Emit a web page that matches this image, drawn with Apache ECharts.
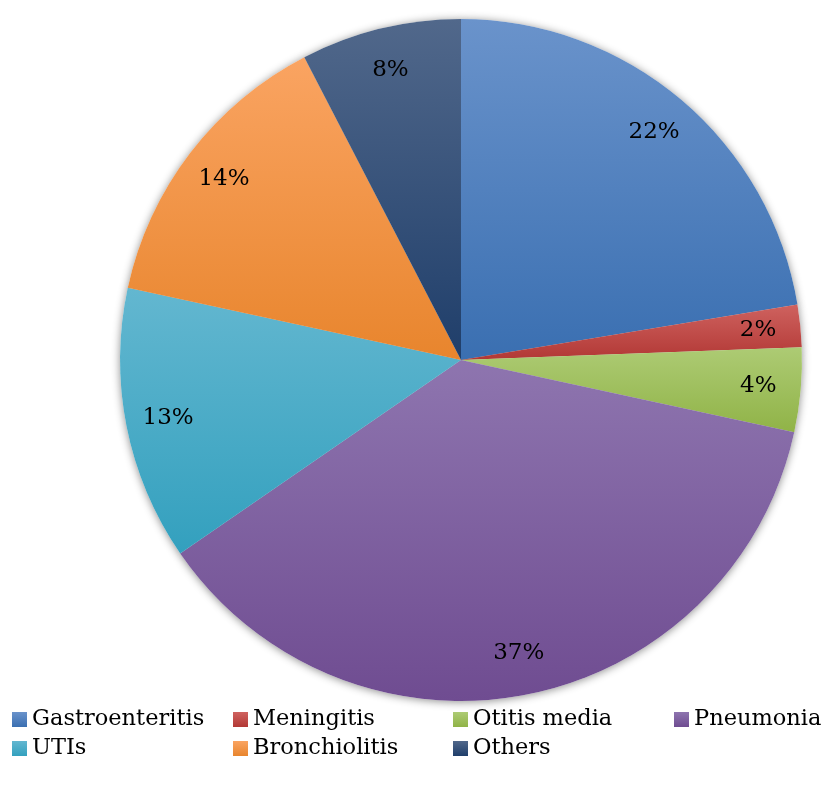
<!DOCTYPE html>
<html lang="en">
<head>
    <meta charset="UTF-8">
    <title>Diagnoses</title>
    <style>
        html, body { margin: 0; padding: 0; background: #fff; }
    </style>
</head>
<body>
<div id="pie" style="width:839px;height:788px;"></div>

<script src="https://cdn.jsdelivr.net/npm/echarts@6/dist/echarts.min.js"></script>
<script type="text/javascript">

    // data (percent of cases)
    var categories = ['Gastroenteritis', 'Meningitis', 'Otitis media', 'Pneumonia', 'UTIs', 'Bronchiolitis', 'Others'];
    var values = [22.4, 2.0, 4.0, 37.0, 13.0, 14.0, 7.6];

    // light top / dark bottom, like the office gradient fill
    var colorsTop = ['#6A93CB', '#CF625F', '#ADCB74', '#8E75AF', '#63B7D0', '#FAA462', '#51688B'];
    var colorsBottom = ['#3A6FB1', '#B23835', '#90B347', '#6F4C91', '#33A0BE', '#E8852D', '#1F3E6A'];

    // legend columns (indexes into categories)
    var legendCols = [[0, 4], [1, 5], [2, 6], [3]];
    var legendLeft = [12, 233, 453, 674];

    var fontName = 'DejaVu Serif';
    var cx = 461, cy = 360, R = 341;

    var myChart = echarts.init(document.getElementById('pie'));

    var mainData = [];
    var plainData = [];
    for (var i = 0; i < categories.length; i++) {
        mainData.push({
            name: categories[i],
            value: values[i],
            itemStyle: {
                color: new echarts.graphic.LinearGradient(0, 0, 0, 1, [
                    {offset: 0, color: colorsTop[i]},
                    {offset: 1, color: colorsBottom[i]}
                ])
            }
        });
        plainData.push({name: categories[i], value: values[i]});
    }

    var legends = [];
    for (var c = 0; c < legendCols.length; c++) {
        var names = [];
        for (var k = 0; k < legendCols[c].length; k++) {
            names.push(categories[legendCols[c][k]]);
        }
        legends.push({
            data: names,
            orient: 'vertical',
            left: legendLeft[c],
            top: 708,
            padding: 0,
            itemWidth: 15,
            itemHeight: 15,
            itemGap: 6,
            icon: 'rect',
            selectedMode: false,
            textStyle: {fontFamily: fontName, fontSize: 22.5, color: '#000', lineHeight: 20}
        });
    }

    var option = {
        animation: false,
        backgroundColor: '#fff',
        legend: legends,
        series: [
            {
                name: 'Diagnoses',
                type: 'pie',
                z: 2,
                center: [cx, cy],
                radius: [0, R],
                label: {show: false},
                labelLine: {show: false},
                emphasis: {disabled: true},
                data: mainData
            },
            {
                // soft shadow under the whole pie
                name: 'shadow',
                type: 'pie',
                z: 1,
                silent: true,
                legendHoverLink: false,
                center: [cx, cy],
                radius: [0, R],
                label: {show: false},
                labelLine: {show: false},
                itemStyle: {
                    color: '#fff',
                    shadowBlur: 9,
                    shadowColor: 'rgba(0,0,0,0.45)',
                    shadowOffsetX: 0,
                    shadowOffsetY: 1
                },
                data: plainData
            },
            {
                // percent labels placed near the rim
                name: 'labels',
                type: 'pie',
                z: 3,
                silent: true,
                legendHoverLink: false,
                center: [cx, cy],
                radius: [250, R],
                avoidLabelOverlap: false,
                itemStyle: {color: 'rgba(0,0,0,0)'},
                label: {
                    show: true,
                    position: 'inside',
                    color: '#000',
                    fontFamily: fontName,
                    fontSize: 23,
                    formatter: function (p) { return Math.round(p.percent) + '%'; }
                },
                labelLine: {show: false},
                emphasis: {disabled: true},
                data: plainData
            }
        ]
    };

    myChart.setOption(option);
</script>

</body>
</html>
